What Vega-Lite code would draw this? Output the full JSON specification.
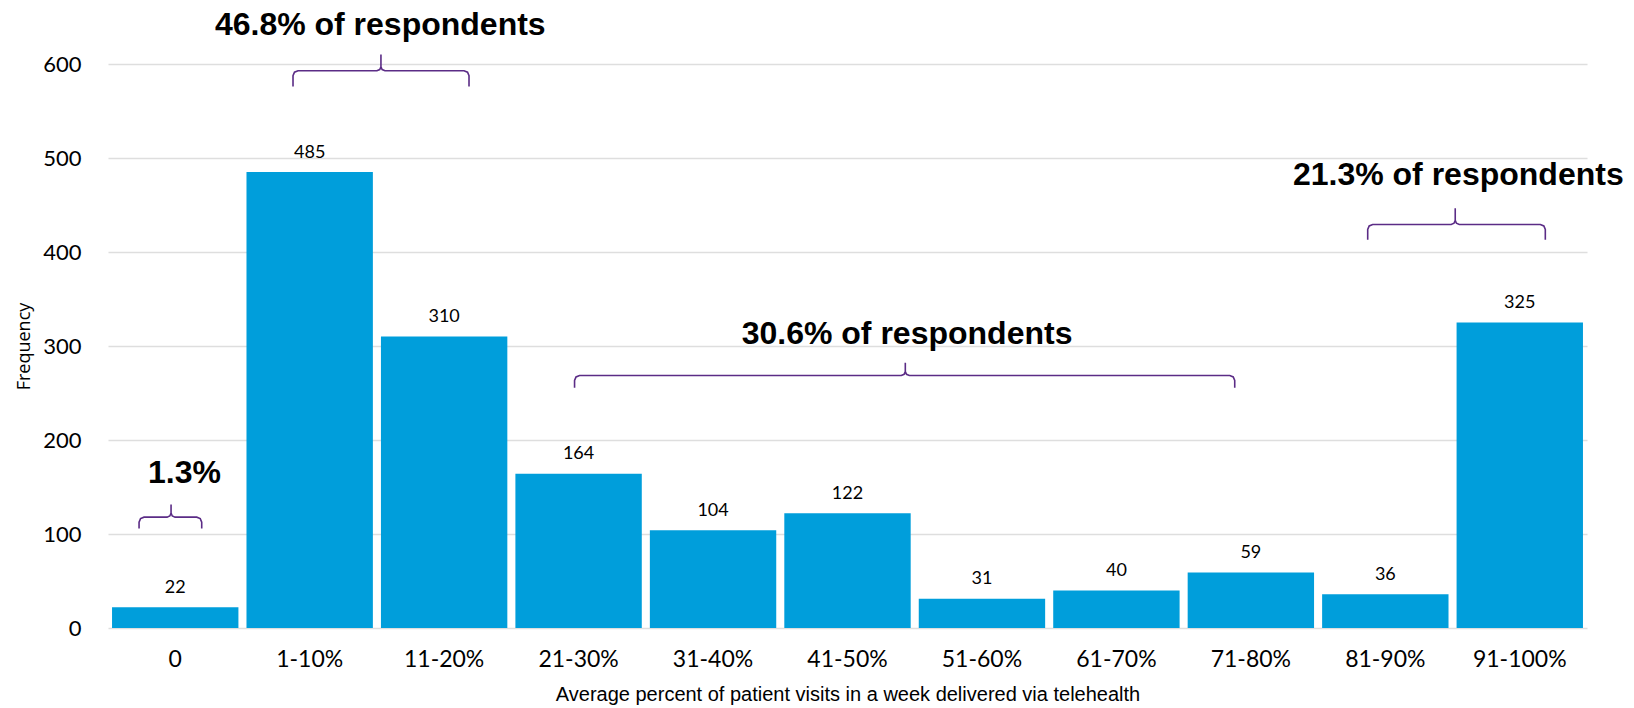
{
  "$schema": "https://vega.github.io/schema/vega-lite/v6.json",
  "autosize": {"type": "none"},
  "padding": {"left": 108, "top": 64, "right": 47, "bottom": 80},
  "width": 1479,
  "height": 564,
  "background": "white",
  "config": {
    "view": {"stroke": null},
    "axisY": {
      "grid": true, "gridColor": "#DEDEDE", "gridWidth": 1.5,
      "ticks": false, "domain": false,
      "labelFont": "Lato", "labelFontSize": 22, "labelColor": "#000000", "labelPadding": 27,
      "titleFont": "Open Sans", "titleFontSize": 18, "titleFontWeight": "normal",
      "titleColor": "#000000", "titlePadding": 9
    }
  },
  "datasets": {
    "bars": [
      {"bin": "0", "freq": 22},
      {"bin": "1-10%", "freq": 485},
      {"bin": "11-20%", "freq": 310},
      {"bin": "21-30%", "freq": 164},
      {"bin": "31-40%", "freq": 104},
      {"bin": "41-50%", "freq": 122},
      {"bin": "51-60%", "freq": 31},
      {"bin": "61-70%", "freq": 40},
      {"bin": "71-80%", "freq": 59},
      {"bin": "81-90%", "freq": 36},
      {"bin": "91-100%", "freq": 325}
    ],
    "braces": [
      {"brace": "A", "ord": 1, "bx": 1.376, "by": 576},
      {"brace": "A", "ord": 2, "bx": 1.376, "by": 587.5},
      {"brace": "A", "ord": 3, "bx": 1.387, "by": 591.25},
      {"brace": "A", "ord": 4, "bx": 1.413, "by": 592.8},
      {"brace": "A", "ord": 5, "bx": 2.0, "by": 592.8},
      {"brace": "A", "ord": 6, "bx": 2.021, "by": 594.1},
      {"brace": "A", "ord": 7, "bx": 2.03, "by": 597.1},
      {"brace": "A", "ord": 8, "bx": 2.03, "by": 610.1},
      {"brace": "A", "ord": 9, "bx": 2.03, "by": 597.1},
      {"brace": "A", "ord": 10, "bx": 2.039, "by": 594.1},
      {"brace": "A", "ord": 11, "bx": 2.06, "by": 592.8},
      {"brace": "A", "ord": 12, "bx": 2.648, "by": 592.8},
      {"brace": "A", "ord": 13, "bx": 2.674, "by": 591.25},
      {"brace": "A", "ord": 14, "bx": 2.685, "by": 587.5},
      {"brace": "A", "ord": 15, "bx": 2.685, "by": 576},
      {"brace": "B", "ord": 1, "bx": 3.47, "by": 255.5},
      {"brace": "B", "ord": 2, "bx": 3.47, "by": 263.3},
      {"brace": "B", "ord": 3, "bx": 3.481, "by": 267.05},
      {"brace": "B", "ord": 4, "bx": 3.507, "by": 268.6},
      {"brace": "B", "ord": 5, "bx": 5.9, "by": 268.6},
      {"brace": "B", "ord": 6, "bx": 5.921, "by": 269.9},
      {"brace": "B", "ord": 7, "bx": 5.93, "by": 272.9},
      {"brace": "B", "ord": 8, "bx": 5.93, "by": 282.1},
      {"brace": "B", "ord": 9, "bx": 5.93, "by": 272.9},
      {"brace": "B", "ord": 10, "bx": 5.939, "by": 269.9},
      {"brace": "B", "ord": 11, "bx": 5.96, "by": 268.6},
      {"brace": "B", "ord": 12, "bx": 8.343, "by": 268.6},
      {"brace": "B", "ord": 13, "bx": 8.369, "by": 267.05},
      {"brace": "B", "ord": 14, "bx": 8.38, "by": 263.3},
      {"brace": "B", "ord": 15, "bx": 8.38, "by": 255.5},
      {"brace": "C", "ord": 1, "bx": 9.369, "by": 413},
      {"brace": "C", "ord": 2, "bx": 9.369, "by": 424},
      {"brace": "C", "ord": 3, "bx": 9.38, "by": 427.75},
      {"brace": "C", "ord": 4, "bx": 9.406, "by": 429.3},
      {"brace": "C", "ord": 5, "bx": 9.99, "by": 429.3},
      {"brace": "C", "ord": 6, "bx": 10.011, "by": 430.6},
      {"brace": "C", "ord": 7, "bx": 10.02, "by": 433.6},
      {"brace": "C", "ord": 8, "bx": 10.02, "by": 446.6},
      {"brace": "C", "ord": 9, "bx": 10.02, "by": 433.6},
      {"brace": "C", "ord": 10, "bx": 10.029, "by": 430.6},
      {"brace": "C", "ord": 11, "bx": 10.05, "by": 429.3},
      {"brace": "C", "ord": 12, "bx": 10.653, "by": 429.3},
      {"brace": "C", "ord": 13, "bx": 10.679, "by": 427.75},
      {"brace": "C", "ord": 14, "bx": 10.69, "by": 424},
      {"brace": "C", "ord": 15, "bx": 10.69, "by": 413},
      {"brace": "D", "ord": 1, "bx": 0.231, "by": 105.9},
      {"brace": "D", "ord": 2, "bx": 0.231, "by": 112.6},
      {"brace": "D", "ord": 3, "bx": 0.242, "by": 116.35},
      {"brace": "D", "ord": 4, "bx": 0.268, "by": 117.9},
      {"brace": "D", "ord": 5, "bx": 0.439, "by": 117.9},
      {"brace": "D", "ord": 6, "bx": 0.46, "by": 119.2},
      {"brace": "D", "ord": 7, "bx": 0.469, "by": 122.2},
      {"brace": "D", "ord": 8, "bx": 0.469, "by": 131.4},
      {"brace": "D", "ord": 9, "bx": 0.469, "by": 122.2},
      {"brace": "D", "ord": 10, "bx": 0.478, "by": 119.2},
      {"brace": "D", "ord": 11, "bx": 0.499, "by": 117.9},
      {"brace": "D", "ord": 12, "bx": 0.66, "by": 117.9},
      {"brace": "D", "ord": 13, "bx": 0.686, "by": 116.35},
      {"brace": "D", "ord": 14, "bx": 0.697, "by": 112.6},
      {"brace": "D", "ord": 15, "bx": 0.697, "by": 105.9}
    ],
    "notes": [
      {"label": "46.8% of respondents", "nx": 2.025, "ny": 631},
      {"label": "30.6% of respondents", "nx": 5.943, "ny": 301.6},
      {"label": "21.3% of respondents", "nx": 10.043, "ny": 471.8},
      {"label": "1.3%", "nx": 0.569, "ny": 154}
    ]
  },
  "layer": [
    {
      "data": {"name": "bars"},
      "encoding": {
        "x": {
          "field": "bin", "type": "nominal", "sort": null,
          "scale": {"paddingInner": 0.06, "paddingOuter": 0.03},
          "axis": {
            "title": "Average percent of patient visits in a week delivered via telehealth",
            "labelAngle": 0, "ticks": false, "domain": false,
            "labelFont": "Lato", "labelFontSize": 23, "labelColor": "#000000", "labelPadding": 20,
            "titleFont": "Liberation Sans", "titleFontSize": 20, "titleFontWeight": "normal",
            "titleColor": "#000000", "titlePadding": 13
          }
        },
        "y": {
          "field": "freq", "type": "quantitative",
          "scale": {"domain": [0, 600], "nice": false},
          "axis": {"title": "Frequency", "values": [0, 100, 200, 300, 400, 500, 600]}
        }
      },
      "layer": [
        {"mark": {"type": "bar", "color": "#009EDB"}},
        {
          "mark": {"type": "text", "font": "Lato", "fontSize": 18, "color": "#000000", "baseline": "alphabetic", "dy": -14.5},
          "encoding": {"text": {"field": "freq", "type": "quantitative"}}
        }
      ]
    },
    {
      "layer": [
        {
          "data": {"name": "braces"},
          "mark": {"type": "line", "color": "#5B2C86", "strokeWidth": 1.6, "clip": false},
          "encoding": {
            "x": {"field": "bx", "type": "quantitative", "scale": {"domain": [0, 11], "nice": false, "zero": false}, "axis": null},
            "y": {"field": "by", "type": "quantitative", "scale": {"domain": [0, 600], "nice": false}, "axis": {"title": "Frequency", "values": [0, 100, 200, 300, 400, 500, 600]}},
            "detail": {"field": "brace", "type": "nominal"},
            "order": {"field": "ord", "type": "quantitative"}
          }
        },
        {
          "data": {"name": "notes"},
          "mark": {"type": "text", "font": "Liberation Sans", "fontSize": 32, "fontWeight": "bold", "color": "#000000", "align": "center", "baseline": "alphabetic"},
          "encoding": {
            "x": {"field": "nx", "type": "quantitative", "scale": {"domain": [0, 11], "nice": false, "zero": false}, "axis": null},
            "y": {"field": "ny", "type": "quantitative", "scale": {"domain": [0, 600], "nice": false}, "axis": {"title": "Frequency", "values": [0, 100, 200, 300, 400, 500, 600]}},
            "text": {"field": "label", "type": "nominal"}
          }
        }
      ]
    }
  ],
  "resolve": {"scale": {"x": "independent"}}
}
